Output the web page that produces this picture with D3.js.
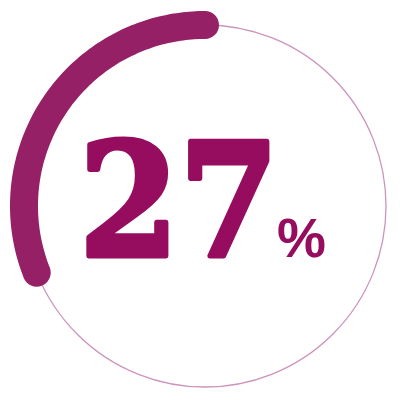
<!DOCTYPE html>
<html>
<head>
<meta charset="utf-8">
<script src="https://cdn.jsdelivr.net/npm/d3@7"></script>
<style>
  html, body { margin: 0; padding: 0; background: #fff; }
  svg { display: block; }
</style>
</head>
<body>
<svg width="400" height="400"></svg>
<script>
// gauge values
const labelValue = 27;      // number printed in the middle
const labelSuffix = "%";
const arcShare = [31];      // share of the ring covered by the thick arc
const total = 100;

const svg = d3.select("svg"),
      width = 400,
      height = 400;

const cx = 205, cy = 206, r = 181;

const g = svg.append("g")
    .attr("transform", `translate(${cx},${cy})`);

// angle scale: 0 at top, running counter-clockwise
const angle = d3.scaleLinear()
    .domain([0, total])
    .range([0, -2 * Math.PI]);

// thin background ring
g.append("circle")
    .attr("r", r)
    .attr("fill", "none")
    .attr("stroke", "#cc93bd")
    .attr("stroke-width", 1.3);

// thick progress arc drawn as a stroked path so it gets round caps
const arcLine = d3.lineRadial()
    .angle(d => angle(d))
    .radius(r)
    .curve(d3.curveCardinal);

g.selectAll("path.progress")
    .data(arcShare)
    .enter().append("path")
    .attr("class", "progress")
    .attr("d", d => arcLine(d3.range(0, d + 0.01, d / 60)))
    .attr("fill", "none")
    .attr("stroke", "#962065")
    .attr("stroke-width", 28)
    .attr("stroke-linecap", "round");

// big number, stroked a little to get the heavy look, squeezed to fit
const num = svg.append("text")
    .style("font-family", "'DejaVu Serif', serif")
    .style("font-weight", "bold")
    .style("font-size", "157px")
    .attr("fill", "#960c5e")
    .attr("stroke", "#960c5e")
    .attr("stroke-width", 5)
    .attr("stroke-linejoin", "round")
    .text(labelValue);

const numWidth = num.node().getComputedTextLength();
const sx = 200 / numWidth;
num.attr("transform", `translate(79,256) scale(${sx},1)`);

svg.append("text")
    .attr("x", 277)
    .attr("y", 257)
    .style("font-family", "'Liberation Sans', Arial, sans-serif")
    .style("font-weight", "bold")
    .style("font-size", "55px")
    .attr("fill", "#960c5e")
    .text(labelSuffix);
</script>
</body>
</html>
